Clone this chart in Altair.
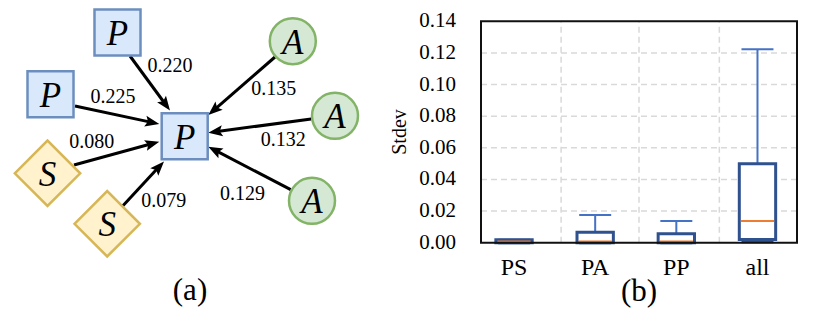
import altair as alt
import pandas as pd

# ---------------- panel (a): weighted graph ----------------
node_kind = ["P", "P", "P", "S", "S", "A", "A", "A"]
node_x = [117.5, 50.5, 184.7, 47.5, 107.2, 292.8, 335.0, 312.0]
node_y = [32.5, 94.2, 136.2, 173.3, 223.8, 41.2, 115.8, 200.8]

edge_x1 = [130.0, 75.0, 74.0, 122.7, 275.0, 311.2, 290.7]
edge_y1 = [56.0, 106.0, 165.0, 206.0, 57.0, 119.0, 189.7]
edge_x2 = [170.0, 159.3, 159.3, 164.0, 208.3, 208.3, 208.3]
edge_y2 = [110.5, 124.0, 141.7, 161.5, 115.0, 132.7, 146.7]
edge_weight = ["0.220", "0.225", "0.080", "0.079", "0.135", "0.132", "0.129"]
weight_x = [170.0, 113.0, 91.7, 163.8, 273.8, 283.3, 242.5]
weight_y = [71.7, 103.3, 148.3, 207.3, 95.0, 146.0, 200.0]

caption_a = ["(a)"]
caption_a_x = [190.0]
caption_a_y = [300.0]

# ---------------- panel (b): box plot ----------------
categories = ["PS", "PA", "PP", "all"]
cat_pos = [1, 2, 3, 4]
whisker_low = [0.0, 0.0, 0.0, 0.0006]
q1 = [0.0, 0.0, 0.0, 0.0021]
median = [0.0007, 0.0007, 0.0007, 0.0137]
q3 = [0.0018, 0.0066, 0.0057, 0.0500]
whisker_high = [0.0018, 0.0175, 0.0137, 0.1224]

y_ticks = [0.0, 0.02, 0.04, 0.06, 0.08, 0.10, 0.12, 0.14]
y_tick_labels = ["0.00", "0.02", "0.04", "0.06", "0.08", "0.10", "0.12", "0.14"]
y_limits = [0.0, 0.14]
x_limits = [0.593, 4.487]
v_grid = [1.58, 2.54, 3.53]
y_title = "Stdev"
caption_b = "(b)"

SERIF = "'Liberation Serif', 'Times New Roman', Times, 'DejaVu Serif', serif"

# scales: panel (a) in layout units, panel (b) in data units
xa = alt.Scale(domain=[8, 822], range=[0, 814], nice=False, zero=False)
ya = alt.Scale(domain=[8, 324], range=[0, 316], nice=False, zero=False)
xb = alt.Scale(domain=x_limits, range=[473, 789], nice=False, zero=False)
yb = alt.Scale(domain=y_limits, range=[234.7, 13.3], nice=False, zero=False)


def XA(f):
    return alt.X(f, type="quantitative", scale=xa, axis=None)


def YA(f):
    return alt.Y(f, type="quantitative", scale=ya, axis=None)


def XB(f):
    return alt.X(f, type="quantitative", scale=xb, axis=None)


def YB(f):
    return alt.Y(f, type="quantitative", scale=yb, axis=None)


# ----- panel (a) layers -----
edges = pd.DataFrame(dict(x1=edge_x1, y1=edge_y1, x2=edge_x2, y2=edge_y2,
                          w=edge_weight, lx=weight_x, ly=weight_y))
ebase = alt.Chart(edges).transform_calculate(
    len="sqrt(pow(datum.x2-datum.x1,2)+pow(datum.y2-datum.y1,2))"
).transform_calculate(
    ex="datum.x1+(datum.x2-datum.x1)*(1-9/datum.len)",
    ey="datum.y1+(datum.y2-datum.y1)*(1-9/datum.len)",
    ang="(atan2(datum.x2-datum.x1, datum.y1-datum.y2)*180/PI+360)%360",
)
edge_lines = ebase.mark_rule(color="black", strokeWidth=3).encode(
    x=XA("x1"), y=YA("y1"), x2=alt.X2("ex"), y2=alt.Y2("ey"))
ARROW = "M0,0 L0.5,1.3 L0,1.05 L-0.5,1.3 Z"
edge_heads = ebase.mark_point(shape=ARROW, size=484, filled=True, fill="black",
                              strokeWidth=0, opacity=1).encode(
    x=XA("x2"), y=YA("y2"), angle=alt.Angle("ang:Q", scale=None))
edge_text = alt.Chart(edges).mark_text(font=SERIF, fontSize=20, color="black",
                                       align="center", baseline="alphabetic").encode(
    x=XA("lx"), y=YA("ly"), text="w:N")

nodes = pd.DataFrame(dict(kind=node_kind, x=node_x, y=node_y))
nbase = alt.Chart(nodes)
sq = nbase.transform_filter("datum.kind=='P'").mark_point(
    shape="square", size=2116, filled=True, fill="#dae8fc", stroke="#6c8ebf",
    strokeWidth=2.5, opacity=1).encode(x=XA("x"), y=YA("y"))
dia = nbase.transform_filter("datum.kind=='S'").mark_point(
    shape="diamond", size=4277, filled=True, fill="#fff2cc", stroke="#d6b656",
    strokeWidth=2.5, opacity=1).encode(x=XA("x"), y=YA("y"))
circ = nbase.transform_filter("datum.kind=='A'").mark_point(
    shape="circle", size=2116, filled=True, fill="#d5e8d4", stroke="#82b366",
    strokeWidth=2.5, opacity=1).encode(x=XA("x"), y=YA("y"))
letters = nbase.mark_text(font=SERIF, fontStyle="italic", fontSize=35, color="black",
                          align="center", baseline="alphabetic", dy=12.5).encode(
    x=XA("x"), y=YA("y"), text="kind:N")
cap_a = alt.Chart(pd.DataFrame(dict(t=caption_a, x=caption_a_x, y=caption_a_y))).mark_text(
    font=SERIF, fontSize=31, color="black", align="center", baseline="alphabetic").encode(
    x=XA("x"), y=YA("y"), text="t:N")

panel_a = alt.layer(edge_lines, edge_heads, sq, dia, circ, letters, edge_text, cap_a)

# ----- panel (b) layers -----
GRID = "#d9d9d9"
hgrid = alt.Chart(pd.DataFrame(dict(y=y_ticks[1:-1], xl=x_limits[0], xr=x_limits[1]))).mark_rule(
    color=GRID, strokeWidth=1.5, strokeDash=[6, 4]).encode(x=XB("xl"), x2=alt.X2("xr"), y=YB("y"))
vgrid = alt.Chart(pd.DataFrame(dict(x=v_grid, yl=y_limits[0], yh=y_limits[1]))).mark_rule(
    color=GRID, strokeWidth=1.5, strokeDash=[6, 4]).encode(x=XB("x"), y=YB("yl"), y2=alt.Y2("yh"))

box = pd.DataFrame(dict(cat=categories, pos=cat_pos, lo=whisker_low, q1=q1,
                        med=median, q3=q3, hi=whisker_high))
bbase = alt.Chart(box).transform_calculate(
    bl="datum.pos-0.224", br="datum.pos+0.224",
    cl="datum.pos-0.197", cr="datum.pos+0.197",
    ml="datum.pos-0.205", mr="datum.pos+0.205",
)
WHISK = "#4472c4"
w_up = bbase.mark_rule(color=WHISK, strokeWidth=2).encode(x=XB("pos"), y=YB("q3"), y2=alt.Y2("hi"))
w_dn = bbase.mark_rule(color=WHISK, strokeWidth=2).encode(x=XB("pos"), y=YB("lo"), y2=alt.Y2("q1"))
cap_up = bbase.mark_rule(color=WHISK, strokeWidth=2).encode(x=XB("cl"), x2=alt.X2("cr"), y=YB("hi"))
cap_dn = bbase.mark_rule(color="#2f528f", strokeWidth=3).encode(x=XB("cl"), x2=alt.X2("cr"), y=YB("lo"))
boxes = bbase.mark_rect(fill="white", stroke="#2f528f", strokeWidth=3).encode(
    x=XB("bl"), x2=alt.X2("br"), y=YB("q1"), y2=alt.Y2("q3"))
meds = bbase.mark_rule(color="#ed7d31", strokeWidth=2).encode(
    x=XB("ml"), x2=alt.X2("mr"), y=YB("med"))

frame = alt.Chart(pd.DataFrame(dict(xl=[x_limits[0]], xr=[x_limits[1]],
                                    yl=[y_limits[0]], yh=[y_limits[1]]))).mark_rect(
    fillOpacity=0, stroke="#111111", strokeWidth=2).encode(
    x=XB("xl"), x2=alt.X2("xr"), y=YB("yl"), y2=alt.Y2("yh"))

ytl = alt.Chart(pd.DataFrame(dict(y=y_ticks, t=y_tick_labels, x=x_limits[0]))).mark_text(
    font=SERIF, fontSize=21, color="black", align="right", baseline="middle", dx=-25).encode(
    x=XB("x"), y=YB("y"), text="t:N")
xtl = alt.Chart(pd.DataFrame(dict(x=cat_pos, t=categories, y=y_limits[0]))).mark_text(
    font=SERIF, fontSize=24, color="black", align="center", baseline="alphabetic", dy=32.3).encode(
    x=XB("x"), y=YB("y"), text="t:N")
ytitle = alt.Chart(pd.DataFrame(dict(t=[y_title], x=[x_limits[0]],
                                     y=[(y_limits[0] + y_limits[1]) / 2]))).mark_text(
    font=SERIF, fontSize=20, color="black", align="center", baseline="middle",
    angle=270, dy=-81).encode(x=XB("x"), y=YB("y"), text="t:N")
cap_b = alt.Chart(pd.DataFrame(dict(t=[caption_b], x=[(x_limits[0] + x_limits[1]) / 2],
                                    y=[y_limits[0]]))).mark_text(
    font=SERIF, fontSize=31, color="black", align="center", baseline="alphabetic", dy=58.3).encode(
    x=XB("x"), y=YB("y"), text="t:N")

panel_b = alt.layer(hgrid, vgrid, w_up, w_dn, cap_up, cap_dn, boxes, meds, frame,
                    ytl, xtl, ytitle, cap_b)

chart = alt.layer(panel_a, panel_b).resolve_scale(
    x="independent", y="independent"
).properties(
    width=814, height=316, padding=0,
    autosize=alt.AutoSizeParams(type="none"), background="white"
).configure_view(stroke="transparent")

chart.save("out.html", embed_options={"renderer": "svg", "actions": False})
